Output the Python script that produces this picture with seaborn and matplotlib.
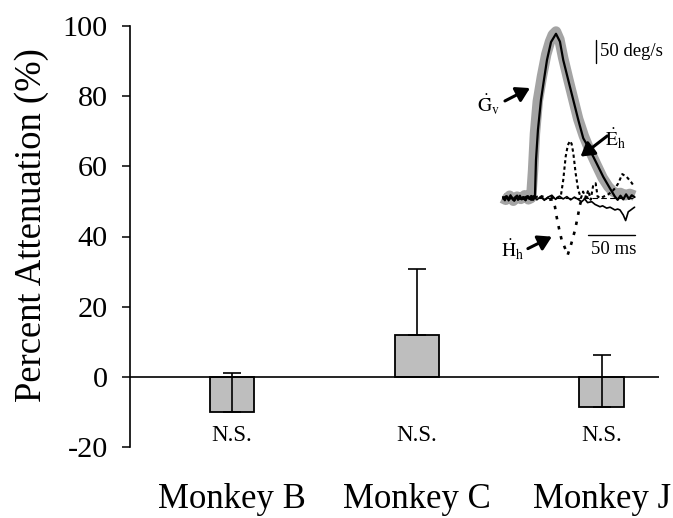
import numpy as np
import pandas as pd
import matplotlib
matplotlib.use("Agg")
import matplotlib.pyplot as plt
import seaborn as sns

# ---------------- data ----------------
monkeys = ["Monkey B", "Monkey C", "Monkey J"]
attenuation = [-10.0, 11.8, -8.7]          # percent
err_up = [11.0, 18.8, 14.8]                 # upper error (percent)
ns_labels = ["N.S.", "N.S.", "N.S."]
yticks = [-20, 0, 20, 40, 60, 80, 100]

# inset traces (time in ms, velocity in deg/s)
t_gray = [-1, 3, 7, 11, 15, 19, 23, 27, 30, 32, 34, 37, 41.5, 46, 50, 53, 56.4, 60, 64,
          69.5, 75, 80, 86, 92, 99, 106, 112, 117, 121, 125, 130, 135, 140]
v_gray = [0, -4, 5, -6, 3, -2, 6, -3, 0, 60, 140, 210, 265, 312, 340, 355, 362, 345, 305,
          258, 213, 172, 135, 105, 74, 44, 25, 14, 10, 11, 6, 9, 5]

t_gv = [0, 2, 4, 6, 8, 10, 12, 14, 16, 18, 20, 22, 24, 26, 28, 30, 32, 34, 35.1, 37.2,
        40.4, 43.6, 46.8, 51.1, 56.4, 60.6, 64.1, 69.5, 74.8, 80.1, 85.4, 92.6, 99.7,
        106.7, 113.8, 119.1, 122, 125, 128, 131, 134, 137, 140]
v_gv = [2, -5, 4, -3, 6, -2, -6, 3, -4, 5, -3, 2, -5, 4, -2, 3, -4, 2, 82, 148,
        213, 257, 300, 339, 357, 340, 300, 256, 213, 170, 130, 104, 75,
        46, 21, 3, -4, 5, -3, 8, -2, 6, 2]

t_gh = [0, 3, 6, 9, 12, 15, 18, 21, 24, 27, 30, 33, 36, 40, 44, 48, 52, 56, 60, 64, 68,
        72, 76, 80, 83.7, 87, 90, 94.4, 98, 103.2, 106, 110.3, 114, 119.1, 122, 124.5,
        128, 130.5, 133.3, 136, 138.6, 140]
v_gh = [-2, 4, -6, 3, -4, 6, -3, 2, -5, 4, -2, 5, -4, 3, -5, 2, 6, -3, 4, -2, 3,
        -4, 2, -3, -8, -2, -10, -8, -14, -19, -17, -22, -20, -26, -24, -26,
        -37, -49, -30, -26, -22, -20]

t_eh = [0, 5, 10, 15, 20, 25, 30, 35, 40, 45, 50, 55, 59, 61.7, 64.1, 66.7, 69, 71.3,
        73, 74.8, 77.3, 80.1, 83, 85.2, 88, 90.7, 93.3, 96, 98.6, 100.7, 104, 108, 112,
        116, 119.5, 122.7, 126.9, 131.6, 136.2, 138.6]
v_eh = [0, 4, -3, 5, -2, 3, -4, 2, 5, -3, 4, -2, 2, 6.5, 39, 90, 115, 124,
        118, 98, 54, 17, 0, 14, 0, 17, -4, 28, 32, 3, 0, 4, 8,
        14, 22, 32, 52, 46, 35, 28]

t_hh = [0, 6, 12, 18, 24, 30, 36, 42, 48, 53, 55.3, 57.1, 59.6, 62.4, 66, 68.8, 72.3,
        76.6, 79.5, 81.9, 84, 88, 92]
v_hh = [-2, 3, -4, 2, -3, 4, -2, 3, -4, -3, -19, -41, -66, -91, -109, -124, -102,
        -70, -41, -15, 0, 3, -2]

baseline_t = [0, 138]
baseline_v = [0, 0]
scale_ms = 50
scale_degs = 50

# ---------------- style ----------------
sns.set_style("white")
plt.rcParams["font.family"] = ["Liberation Serif", "DejaVu Serif"]
plt.rcParams["mathtext.fontset"] = "stix"
plt.rcParams["text.color"] = "black"
plt.rcParams["axes.labelcolor"] = "black"
plt.rcParams["xtick.color"] = "black"
plt.rcParams["ytick.color"] = "black"

W, H = 673, 518
fig = plt.figure(figsize=(W / 100, H / 100), dpi=100)
fig.patch.set_facecolor("white")

ax = fig.add_axes([130 / W, 1 - 447 / H, 529 / W, 421 / H])
df = pd.DataFrame({"monkey": monkeys, "atten": attenuation})
sns.barplot(data=df, x="monkey", y="atten", color="#bebebe", saturation=1,
            edgecolor="black", linewidth=1.3, width=0.24, errorbar=None, ax=ax)
xpos = np.arange(len(monkeys))
ax.errorbar(xpos, attenuation, yerr=[np.zeros(len(err_up)), err_up], fmt="none",
            ecolor="black", elinewidth=1.2, capsize=6.5, capthick=1.2, zorder=3)
ax.axhline(0, color="black", lw=1.2, zorder=2)

ax.set_xlim(-0.55, 2.31)
ax.set_ylim(-20, 100)
ax.set_yticks(yticks)
ax.set_yticklabels([str(v) for v in yticks])
for s in ["top", "right", "bottom"]:
    ax.spines[s].set_visible(False)
ax.spines["left"].set_color("black")
ax.spines["left"].set_linewidth(1.2)
ax.tick_params(axis="y", left=True, direction="out", length=6, width=1.1, pad=10,
               labelsize=21.8)
ax.tick_params(axis="x", bottom=False, length=0, pad=26, labelsize=25)
ax.set_xlabel("")
ax.set_ylabel("Percent Attenuation (%)", fontsize=26.4)
ax.yaxis.set_label_coords(-0.154, 0.527)

for i, lab in enumerate(ns_labels):
    ax.text(i, -16.6, lab, ha="center", va="center", fontsize=16.5)

# ---------------- inset ----------------
axi = fig.add_axes([470 / W, 1 - 270 / H, 203 / W, 245 / H])
axi.set_xlim(-35.1, 180.9)
axi.set_ylim(-156.5, 376.1)
axi.axis("off")
axi.patch.set_alpha(0)

axi.plot(t_gray, v_gray, color="#a4a4a4", lw=7.5, solid_capstyle="butt",
         solid_joinstyle="round", zorder=1)
axi.plot(baseline_t, baseline_v, color="black", lw=0.8, dashes=(5, 3), zorder=2)
axi.plot(t_gv, v_gv, color="black", lw=1.6, zorder=3)
axi.plot(t_gh, v_gh, color="black", lw=1.2, zorder=3)
axi.plot(t_eh, v_eh, color="black", lw=1.5, dashes=(1.6, 1.4), zorder=4)
axi.plot(t_hh, v_hh, color="black", lw=1.9, dashes=(1.3, 2.6), zorder=4)

# scale bars
sb_x, sb_y = 99.4, 293.5
axi.plot([sb_x, sb_x], [sb_y, sb_y + scale_degs], color="black", lw=1.0)
axi.text(sb_x + 3.5, sb_y + 25, "50 deg/s", ha="left", va="center", fontsize=13.5)
hb_x, hb_y = 90.4, -80.4
axi.plot([hb_x, hb_x + scale_ms], [hb_y, hb_y], color="black", lw=1.0)
axi.text(118, -113, "50 ms", ha="center", va="center", fontsize=13.5)

arrow = dict(arrowstyle="-|>,head_length=0.5,head_width=0.3", color="black",
             lw=2.2, mutation_scale=16, shrinkA=0, shrinkB=0)
axi.text(-16, 202, r"$\dot{\mathrm{G}}_{\mathrm{v}}$", ha="center", va="center", fontsize=14)
axi.annotate("", xy=(28.7, 239), xytext=(2.1, 211), arrowprops=arrow)
axi.text(120.2, 128, r"$\dot{\mathrm{E}}_{\mathrm{h}}$", ha="center", va="center", fontsize=14)
axi.annotate("", xy=(82.5, 90), xytext=(111, 135), arrowprops=arrow)
axi.text(10.6, -113, r"$\dot{\mathrm{H}}_{\mathrm{h}}$", ha="center", va="center", fontsize=14)
axi.annotate("", xy=(52, -84), xytext=(26.5, -110), arrowprops=arrow)

fig.savefig("out.png", dpi=100, facecolor="white")
